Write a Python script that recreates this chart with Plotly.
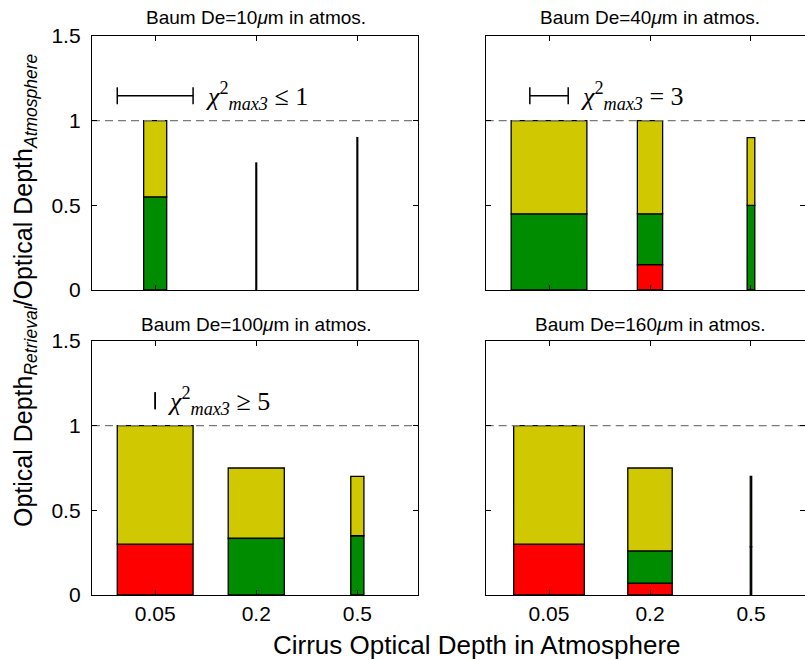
import plotly.graph_objects as go

# ---------------- data ----------------
categories = ["0.05", "0.2", "0.5"]
positions = [1, 2, 3]

panel_titles = [
    "Baum De=10<i>μ</i>m in atmos.",
    "Baum De=40<i>μ</i>m in atmos.",
    "Baum De=100<i>μ</i>m in atmos.",
    "Baum De=160<i>μ</i>m in atmos.",
]

# bar widths (x units)
widths_10 = [0.228, 0.008, 0.008]
widths_40 = [0.75, 0.25, 0.076]
widths_100 = [0.75, 0.555, 0.13]
widths_160 = [0.70, 0.44, 0.014]

# cumulative levels: top of red, top of green, total
red_top_10 = [0.0, 0.0, 0.0]
green_top_10 = [0.55, 0.0, 0.0]
total_10 = [1.0, 0.75, 0.90]

red_top_40 = [0.0, 0.15, 0.0]
green_top_40 = [0.45, 0.45, 0.50]
total_40 = [1.0, 1.0, 0.90]

red_top_100 = [0.30, 0.0, 0.0]
green_top_100 = [0.30, 0.335, 0.35]
total_100 = [1.0, 0.75, 0.70]

red_top_160 = [0.30, 0.07, 0.0]
green_top_160 = [0.30, 0.26, 0.285]
total_160 = [1.0, 0.75, 0.70]

# chi-square scale markers (half widths in x units) and labels
chi_halfwidths = [0.375, 0.19, 0.0, None]
chi_labels = [
    "<i>χ</i><sup>2</sup><sub><i>max3</i></sub> ≤ 1",
    "<i>χ</i><sup>2</sup><sub><i>max3</i></sub> = 3",
    "<i>χ</i><sup>2</sup><sub><i>max3</i></sub> ≥ 5",
    None,
]
chi_y = 1.147
chi_cap = 0.05

reference_level = 1.0

RED = "#ff0000"
GREEN = "#008c00"
YELLOW = "#d0c800"

panels = [
    (widths_10, red_top_10, green_top_10, total_10),
    (widths_40, red_top_40, green_top_40, total_40),
    (widths_100, red_top_100, green_top_100, total_100),
    (widths_160, red_top_160, green_top_160, total_160),
]

W, H = 805, 660
# pixel layout
x_dom = [(92 / W, 418 / W), (485.7 / W, 1.0), (92 / W, 418 / W), (485.7 / W, 1.0)]
y_dom = [((H - 290) / H, (H - 36) / H), ((H - 290) / H, (H - 36) / H),
         ((H - 595) / H, (H - 341) / H), ((H - 595) / H, (H - 341) / H)]
x_ranges = [[0.375, 3.6], [0.373, 3.535], [0.375, 3.6], [0.373, 3.535]]
title_y_px = [18, 18, 324, 324]


def nz(vals):
    return [v if v > 1e-9 else None for v in vals]


fig = go.Figure()

for i, (wd, rt, gt, tot) in enumerate(panels):
    xa = "x" if i == 0 else f"x{i+1}"
    ya = "y" if i == 0 else f"y{i+1}"
    red = rt
    green = [g - r for g, r in zip(gt, rt)]
    yellow = [t - g for t, g in zip(tot, gt)]
    base = [0.0, 0.0, 0.0]
    for vals, col in ((red, RED), (green, GREEN), (yellow, YELLOW)):
        fig.add_trace(go.Bar(
            x=positions, y=nz(vals), base=list(base), width=wd, xaxis=xa, yaxis=ya,
            marker=dict(color=col, line=dict(color="black", width=1.3)),
            showlegend=False, hoverinfo="skip",
        ))
        base = [b + v for b, v in zip(base, vals)]
    # dashed reference line
    fig.add_trace(go.Scatter(
        x=[x_ranges[i][0], x_ranges[i][1]], y=[reference_level, reference_level],
        mode="lines", xaxis=xa, yaxis=ya,
        line=dict(color="#7a7a7a", width=1.3, dash="8px,5px"),
        showlegend=False, hoverinfo="skip",
    ))
    hw = chi_halfwidths[i]
    if hw is not None:
        xl, xr = 1 - hw, 1 + hw
        fig.add_trace(go.Scatter(
            x=[xl, xr, None, xl, xl, None, xr, xr],
            y=[chi_y, chi_y, None, chi_y - chi_cap, chi_y + chi_cap, None,
               chi_y - chi_cap, chi_y + chi_cap],
            mode="lines", xaxis=xa, yaxis=ya,
            line=dict(color="black", width=1.5),
            showlegend=False, hoverinfo="skip",
        ))
        fig.add_annotation(
            x=xr, y=chi_y, xref=xa, yref=ya, text=chi_labels[i],
            xanchor="left", yanchor="middle", showarrow=False, xshift=10,
            font=dict(family="Liberation Serif", size=26, color="black"),
        )
    # panel title
    fig.add_annotation(
        x=2, y=(H - title_y_px[i]) / H, xref=xa, yref="paper",
        text=panel_titles[i], showarrow=False, xanchor="center", yanchor="middle",
        font=dict(family="Liberation Sans", size=19, color="black"),
    )

axis_common = dict(
    showline=True, linecolor="black", linewidth=1.3, mirror="allticks",
    ticks="inside", ticklen=5, tickwidth=1, tickcolor="black",
    showgrid=False, zeroline=False, automargin=False,
    tickfont=dict(family="Liberation Sans", size=21, color="black"),
)

layout = dict(
    width=W, height=H, barmode="overlay",
    margin=dict(l=0, r=0, t=0, b=0, autoexpand=False),
    plot_bgcolor="white", paper_bgcolor="white",
    showlegend=False,
)
for i in range(4):
    xk = "xaxis" if i == 0 else f"xaxis{i+1}"
    yk = "yaxis" if i == 0 else f"yaxis{i+1}"
    ya = "y" if i == 0 else f"y{i+1}"
    xa = "x" if i == 0 else f"x{i+1}"
    layout[xk] = dict(
        axis_common, domain=list(x_dom[i]), range=x_ranges[i], anchor=ya,
        tickvals=positions, ticktext=categories,
        showticklabels=(i >= 2), ticklabelstandoff=0,
    )
    layout[yk] = dict(
        axis_common, domain=list(y_dom[i]), range=[0, 1.5], anchor=xa,
        tickvals=[0, 0.5, 1, 1.5], ticktext=["0", "0.5", "1", "1.5"],
        showticklabels=(i % 2 == 0), ticklabelstandoff=6,
    )
fig.update_layout(**layout)

# global axis titles
fig.add_annotation(
    x=477 / W, y=(H - 645) / H, xref="paper", yref="paper",
    text="Cirrus Optical Depth in Atmosphere", showarrow=False,
    xanchor="center", yanchor="middle",
    font=dict(family="Liberation Sans", size=26, color="black"),
)
fig.add_annotation(
    x=25 / W, y=(H - 290) / H, xref="paper", yref="paper", textangle=-90,
    text="Optical Depth<sub><i>Retrieval</i></sub>/Optical Depth<sub><i>Atmosphere</i></sub>",
    showarrow=False, xanchor="center", yanchor="middle",
    font=dict(family="Liberation Sans", size=25, color="black"),
)

fig.write_html("out.html")
